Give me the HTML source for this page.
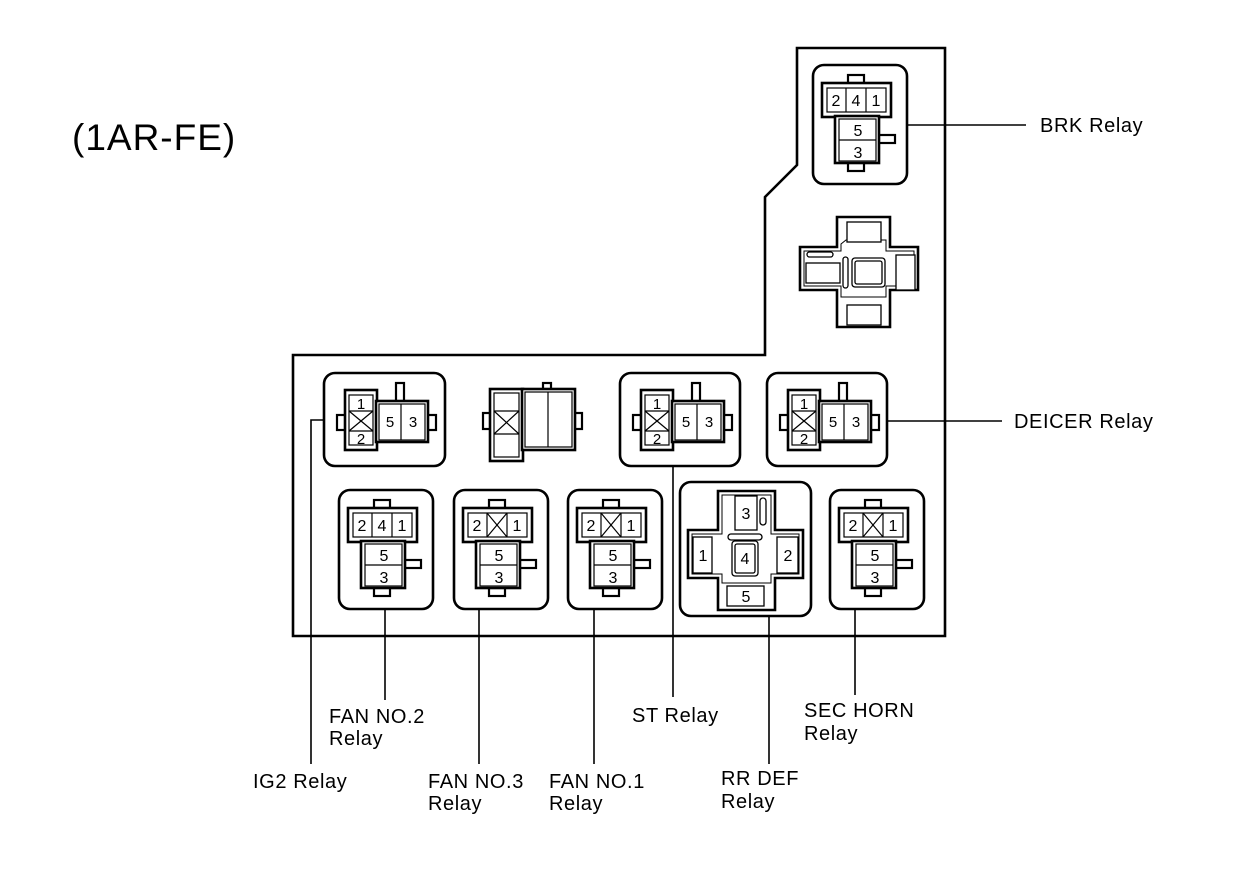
<!DOCTYPE html>
<html><head><meta charset="utf-8"><style>
html,body{margin:0;padding:0;background:#fff}
svg{display:block}
text{font-family:"Liberation Sans",Arial,sans-serif;fill:#000}
</style></head><body>
<svg width="1248" height="872" viewBox="0 0 1248 872" xmlns="http://www.w3.org/2000/svg">
<defs>
<g id="relA" fill="#fff" stroke="#000">
  <rect x="0" y="0" width="94" height="119" rx="11" stroke-width="2.6"/>
  <rect x="35" y="10" width="16" height="9" stroke-width="2.2"/>
  <rect x="35" y="97" width="16" height="9" stroke-width="2.2"/>
  <rect x="64" y="70" width="18" height="8" stroke-width="2.2"/>
  <rect x="9" y="18" width="69" height="34" stroke-width="2.6"/>
  <rect x="22" y="51" width="44" height="47" stroke-width="2.6"/>
  <rect x="14" y="23" width="59" height="24" stroke-width="1.2"/>
  <line x1="33" y1="23" x2="33" y2="47" stroke-width="1.2"/>
  <line x1="53" y1="23" x2="53" y2="47" stroke-width="1.2"/>
  <rect x="26" y="54" width="37" height="42" stroke-width="1.2"/>
  <line x1="26" y1="75" x2="63" y2="75" stroke-width="1.2"/>
</g>
<g id="relB" fill="#fff" stroke="#000">
  <rect x="72" y="10" width="8" height="19" stroke-width="2.2"/>
  <rect x="13" y="42" width="9" height="15" stroke-width="2.2"/>
  <rect x="103" y="42" width="9" height="15" stroke-width="2.2"/>
  <rect x="21" y="17" width="32" height="60" stroke-width="2.6"/>
  <rect x="52" y="28" width="52" height="41" stroke-width="2.6"/>
  <rect x="25" y="22" width="24" height="50" stroke-width="1.2"/>
  <line x1="25" y1="38" x2="49" y2="38" stroke-width="1.2"/>
  <line x1="25" y1="58" x2="49" y2="58" stroke-width="1.2"/>
  <line x1="25" y1="38" x2="49" y2="58" stroke-width="1.2"/>
  <line x1="49" y1="38" x2="25" y2="58" stroke-width="1.2"/>
  <rect x="55" y="31" width="46" height="36" stroke-width="1.2"/>
  <line x1="77" y1="31" x2="77" y2="67" stroke-width="1.2"/>
</g>
</defs>

<polygon points="293,355 765,355 765,197 797,165 797,48 945,48 945,636 293,636" fill="#fff" stroke="#000" stroke-width="2.6"/>

<text x="72" y="150" font-size="37" letter-spacing="1">(1AR-FE)</text>

<g stroke="#000" stroke-width="1.6" fill="none">
  <line x1="905" y1="125" x2="1026" y2="125"/>
  <line x1="887" y1="421" x2="1002" y2="421"/>
  <polyline points="325,420 311,420 311,764"/>
  <line x1="385" y1="609" x2="385" y2="700"/>
  <line x1="479" y1="609" x2="479" y2="764"/>
  <line x1="594" y1="609" x2="594" y2="764"/>
  <line x1="673" y1="466" x2="673" y2="697"/>
  <line x1="769" y1="616" x2="769" y2="764"/>
  <line x1="855" y1="609" x2="855" y2="695"/>
</g>

<use href="#relA" x="339" y="490"/>
<use href="#relA" x="454" y="490"/>
<use href="#relA" x="568" y="490"/>
<use href="#relA" x="830" y="490"/>
<use href="#relA" x="813" y="65"/>
<g stroke="#000" stroke-width="1.2">
  <line x1="487" y1="513" x2="507" y2="537"/><line x1="507" y1="513" x2="487" y2="537"/>
  <line x1="601" y1="513" x2="621" y2="537"/><line x1="621" y1="513" x2="601" y2="537"/>
  <line x1="863" y1="513" x2="883" y2="537"/><line x1="883" y1="513" x2="863" y2="537"/>
</g>
<g font-size="16" text-anchor="middle">
  <text x="362" y="531">2</text><text x="382" y="531">4</text><text x="402" y="531">1</text>
  <text x="384" y="561">5</text><text x="384" y="583">3</text>
  <text x="477" y="531">2</text><text x="517" y="531">1</text>
  <text x="499" y="561">5</text><text x="499" y="583">3</text>
  <text x="591" y="531">2</text><text x="631" y="531">1</text>
  <text x="613" y="561">5</text><text x="613" y="583">3</text>
  <text x="853" y="531">2</text><text x="893" y="531">1</text>
  <text x="875" y="561">5</text><text x="875" y="583">3</text>
  <text x="836" y="106">2</text><text x="856" y="106">4</text><text x="876" y="106">1</text>
  <text x="858" y="136">5</text><text x="858" y="158">3</text>
</g>

<rect x="324" y="373" width="121" height="93" rx="11" fill="#fff" stroke="#000" stroke-width="2.6"/>
<use href="#relB" x="324" y="373"/>
<rect x="620" y="373" width="120" height="93" rx="11" fill="#fff" stroke="#000" stroke-width="2.6"/>
<use href="#relB" x="620" y="373"/>
<rect x="767" y="373" width="120" height="93" rx="11" fill="#fff" stroke="#000" stroke-width="2.6"/>
<use href="#relB" x="767" y="373"/>
<g font-size="15" text-anchor="middle">
  <text x="361" y="409">1</text><text x="361" y="444">2</text><text x="390" y="427">5</text><text x="413" y="427">3</text>
  <text x="657" y="409">1</text><text x="657" y="444">2</text><text x="686" y="427">5</text><text x="709" y="427">3</text>
  <text x="804" y="409">1</text><text x="804" y="444">2</text><text x="833" y="427">5</text><text x="856" y="427">3</text>
</g>

<g fill="#fff" stroke="#000">
  <rect x="543" y="383" width="8" height="8" stroke-width="2.2"/>
  <rect x="483" y="413" width="8" height="16" stroke-width="2.2"/>
  <rect x="574" y="413" width="8" height="16" stroke-width="2.2"/>
  <rect x="490" y="389" width="33" height="72" stroke-width="2.6"/>
  <rect x="522" y="389" width="53" height="61" stroke-width="2.6"/>
  <rect x="494" y="393" width="25" height="64" stroke-width="1.2"/>
  <line x1="494" y1="411" x2="519" y2="411" stroke-width="1.2"/>
  <line x1="494" y1="434" x2="519" y2="434" stroke-width="1.2"/>
  <line x1="494" y1="411" x2="519" y2="434" stroke-width="1.2"/>
  <line x1="519" y1="411" x2="494" y2="434" stroke-width="1.2"/>
  <rect x="525" y="392" width="47" height="55" stroke-width="1.2"/>
  <line x1="548" y1="392" x2="548" y2="447" stroke-width="1.2"/>
</g>

<rect x="680" y="482" width="131" height="134" rx="11" fill="#fff" stroke="#000" stroke-width="2.6"/>
<path d="M718,491 H775 V530 H803 V578 H775 V610 H718 V578 H688 V530 H718 Z" fill="#fff" stroke="#000" stroke-width="2.6"/>
<path d="M722,495 H771 V534 H799 V574 H771 V583 H722 V574 H692 V534 H722 Z" fill="none" stroke="#000" stroke-width="1"/>
<g fill="#fff" stroke="#000" stroke-width="1.3">
  <rect x="735" y="496" width="22" height="34"/>
  <rect x="760" y="498" width="6" height="27" rx="3"/>
  <rect x="693" y="537" width="19" height="36"/>
  <rect x="777" y="537" width="21" height="36"/>
  <rect x="728" y="534" width="34" height="6" rx="3"/>
  <rect x="732" y="541" width="26" height="35" rx="3"/>
  <rect x="735" y="544" width="20" height="29" rx="2"/>
  <rect x="727" y="586" width="37" height="20"/>
</g>
<g font-size="16" text-anchor="middle">
  <text x="746" y="519">3</text><text x="703" y="561">1</text><text x="788" y="561">2</text>
  <text x="745" y="564">4</text><text x="746" y="602">5</text>
</g>

<path d="M837,217 H890 V247 H918 V290 H890 V327 H837 V290 H800 V247 H837 Z" fill="#fff" stroke="#000" stroke-width="2.6"/>
<path d="M841,244 L846,240 H886 V251 H914 V286 H886 V297 H841 V286 H804 V251 H841 Z" fill="none" stroke="#000" stroke-width="1"/>
<g fill="#fff" stroke="#000" stroke-width="1.3">
  <rect x="847" y="222" width="34" height="20"/>
  <rect x="847" y="305" width="34" height="20"/>
  <rect x="806" y="263" width="34" height="20"/>
  <rect x="807" y="252" width="26" height="5" rx="2.5"/>
  <rect x="896" y="255" width="19" height="35"/>
  <rect x="843" y="257" width="5" height="31" rx="2.5"/>
  <rect x="852" y="258" width="33" height="29" rx="3"/>
  <rect x="855" y="261" width="27" height="23" rx="2"/>
</g>

<g font-size="20" letter-spacing="0.6">
  <text x="1040" y="132">BRK Relay</text>
  <text x="1014" y="428">DEICER Relay</text>
  <text x="329" y="723">FAN NO.2</text><text x="329" y="745">Relay</text>
  <text x="253" y="788">IG2 Relay</text>
  <text x="428" y="788">FAN NO.3</text><text x="428" y="810">Relay</text>
  <text x="549" y="788">FAN NO.1</text><text x="549" y="810">Relay</text>
  <text x="632" y="722">ST Relay</text>
  <text x="721" y="785">RR DEF</text><text x="721" y="808">Relay</text>
  <text x="804" y="717">SEC HORN</text><text x="804" y="740">Relay</text>
</g>
</svg>
</body></html>
